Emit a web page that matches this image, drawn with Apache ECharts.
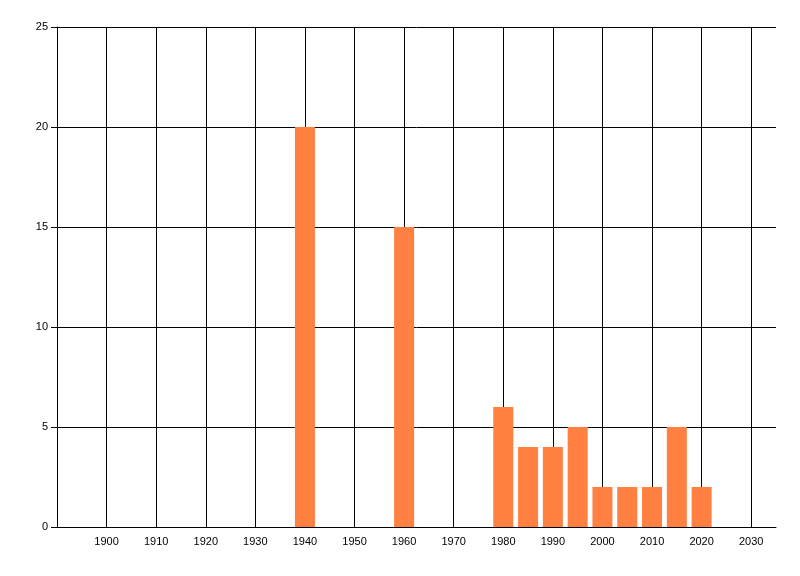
<!DOCTYPE html>
<html>
<head>
<meta charset="utf-8">
<script src="https://cdn.jsdelivr.net/npm/echarts@6/dist/echarts.min.js"></script>
<style>
  html, body { margin: 0; padding: 0; background: #fff; }
  #main { width: 800px; height: 576px; }
</style>
</head>
<body>
<div id="main"></div>
<script>
// years and counts
var years = [1940, 1960, 1980, 1985, 1990, 1995, 2000, 2005, 2010, 2015, 2020]
var counts = [20, 15, 6, 4, 4, 5, 2, 2, 2, 5, 2]

var myChart = echarts.init(document.getElementById('main'))
var option = {
  animation: false,
  grid: {
    left: 57,
    right: 24,
    top: 27,
    bottom: 49
  },
  xAxis: {
    type: 'value',
    min: 1890,
    max: 2035,
    interval: 10,
    axisLine: { show: true, onZero: false, lineStyle: { color: '#000', width: 1 } },
    axisTick: { show: false },
    axisLabel: {
      showMinLabel: false,
      showMaxLabel: false,
      color: '#000',
      fontFamily: 'Liberation Sans',
      fontSize: 11,
      margin: 9,
      formatter: function (v) { return v === 1890 ? '' : String(v) }
    },
    splitLine: { show: true, showMaxLine: false, lineStyle: { color: '#000', width: 1 } }
  },
  yAxis: {
    type: 'value',
    min: 0,
    max: 25,
    interval: 5,
    axisLine: { show: true, lineStyle: { color: '#000', width: 1 } },
    axisTick: { show: true, length: 6, lineStyle: { color: '#000' } },
    axisLabel: {
      color: '#000',
      fontFamily: 'Liberation Sans',
      fontSize: 11,
      margin: 9
    },
    splitLine: { show: true, lineStyle: { color: '#000', width: 1 } }
  },
  series: [{
    type: 'bar',
    data: years.map(function (y, i) { return [y, counts[i]] }),
    barWidth: 20,
    itemStyle: { color: '#FF8040' }
  }]
}
myChart.setOption(option)
</script>
</body>
</html>
